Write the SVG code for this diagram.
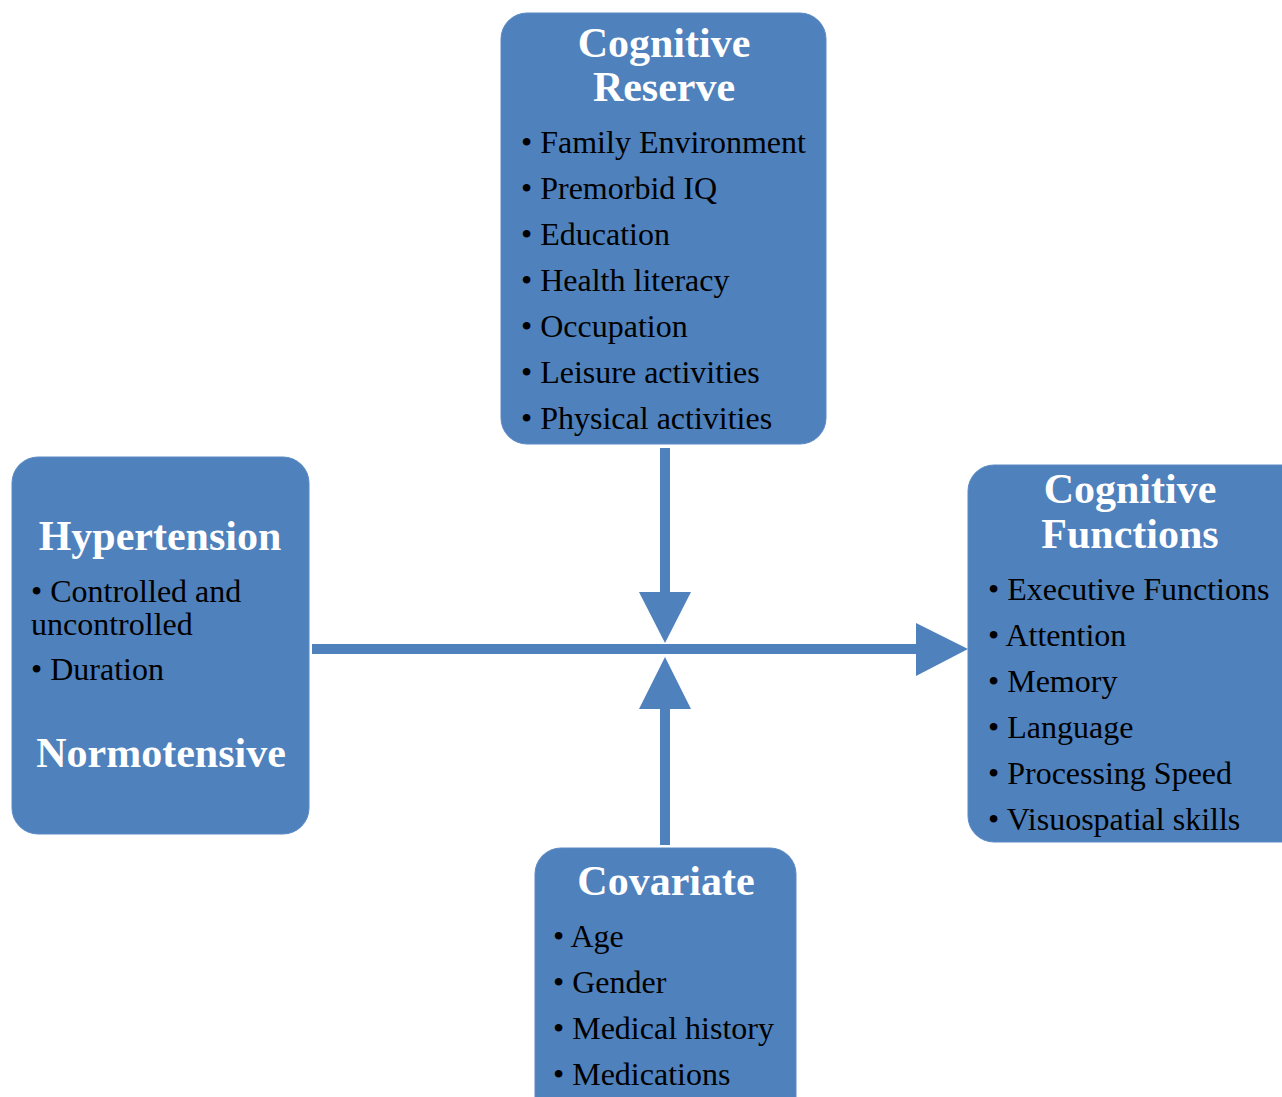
<svg xmlns="http://www.w3.org/2000/svg" width="1282" height="1097" viewBox="0 0 1282 1097">
<style>
.box{fill:#4f81bd;stroke:#5a8ac4;stroke-width:1}
.title{font-family:"Liberation Serif",serif;font-weight:bold;font-size:42px;fill:#ffffff;text-anchor:middle}
.item{font-family:"Liberation Serif",serif;font-size:32px;fill:#000000}
.line{stroke:#4f81bd;stroke-width:10;fill:none}
.head{fill:#4f81bd}
</style>
<rect width="1282" height="1097" fill="#ffffff"/>
<g id="connectors">
<line class="line" x1="665" y1="448" x2="665" y2="600"/>
<polygon class="head" points="639,592 691,592 665,643"/>
<line class="line" x1="312" y1="649" x2="920" y2="649"/>
<polygon class="head" points="916,623 916,676 968,649"/>
<line class="line" x1="665" y1="845" x2="665" y2="700"/>
<polygon class="head" points="639,709 691,709 665,657"/>
</g>
<g id="cognitive-reserve">
<rect class="box" x="501" y="13" width="325" height="431" rx="26"/>
<text class="title" x="664" y="57">Cognitive</text>
<text class="title" x="664" y="101">Reserve</text>
<text class="item" x="521" y="153">• Family Environment</text>
<text class="item" x="521" y="199">• Premorbid IQ</text>
<text class="item" x="521" y="245">• Education</text>
<text class="item" x="521" y="291">• Health literacy</text>
<text class="item" x="521" y="337">• Occupation</text>
<text class="item" x="521" y="383">• Leisure activities</text>
<text class="item" x="521" y="429">• Physical activities</text>
</g>
<g id="hypertension">
<rect class="box" x="12" y="457" width="297" height="377" rx="26"/>
<text class="title" x="160" y="550">Hypertension</text>
<text class="item" x="31" y="602">• Controlled and</text>
<text class="item" x="31" y="635">uncontrolled</text>
<text class="item" x="31" y="680">• Duration</text>
<text class="title" x="161" y="767">Normotensive</text>
</g>
<g id="cognitive-functions">
<rect class="box" x="968" y="465" width="340" height="377" rx="26"/>
<text class="title" x="1130" y="503">Cognitive</text>
<text class="title" x="1130" y="548">Functions</text>
<text class="item" x="988" y="600">• Executive Functions</text>
<text class="item" x="988" y="646">• Attention</text>
<text class="item" x="988" y="692">• Memory</text>
<text class="item" x="988" y="738">• Language</text>
<text class="item" x="988" y="784">• Processing Speed</text>
<text class="item" x="988" y="830">• Visuospatial skills</text>
</g>
<g id="covariate">
<rect class="box" x="535" y="848" width="261" height="280" rx="26"/>
<text class="title" x="666" y="895">Covariate</text>
<text class="item" x="553" y="947">• Age</text>
<text class="item" x="553" y="993">• Gender</text>
<text class="item" x="553" y="1039">• Medical history</text>
<text class="item" x="553" y="1085">• Medications</text>
</g>
</svg>
